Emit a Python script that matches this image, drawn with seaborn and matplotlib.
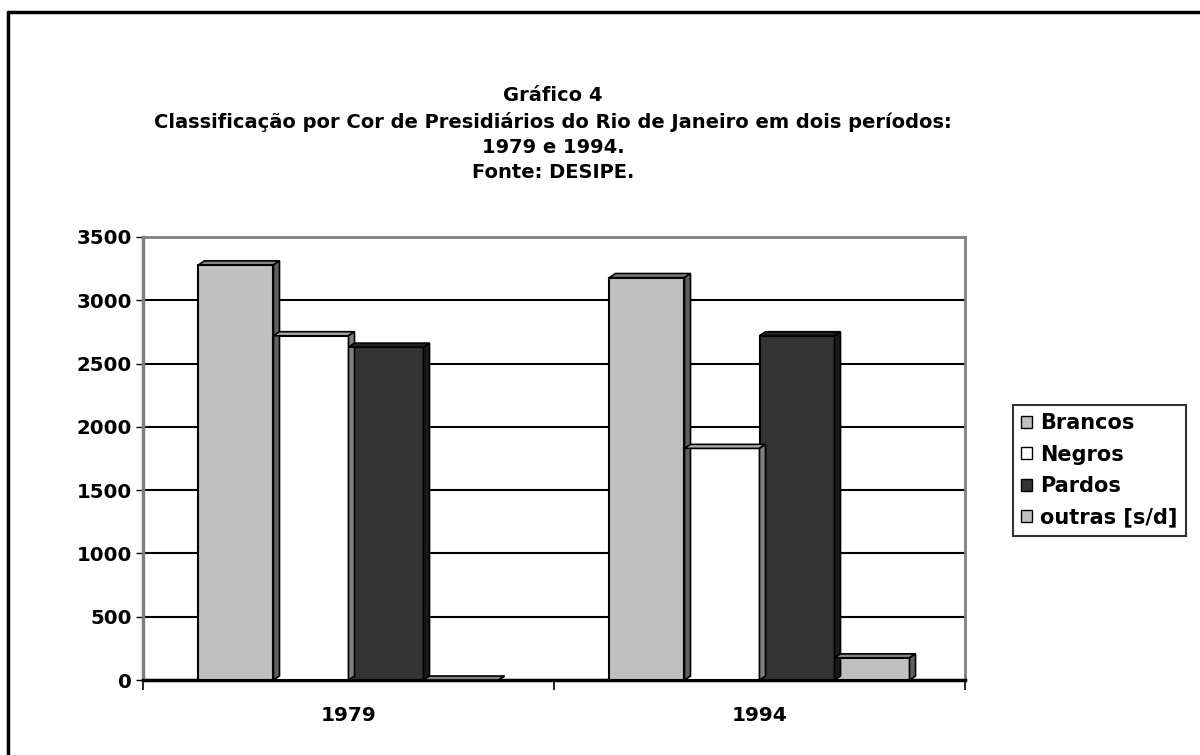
import matplotlib
matplotlib.use("Agg")
import matplotlib.pyplot as plt
from matplotlib.patches import Polygon
from matplotlib.lines import Line2D
import seaborn as sns
import pandas as pd
import numpy as np

# dados
anos = ['1979', '1994']
cores = ['Brancos', 'Negros', 'Pardos', 'outras [s/d]']
brancos = [3280, 3180]
negros = [2720, 1830]
pardos = [2630, 2720]
outras = [0, 175]
paleta = {'Brancos': '#C0C0C0', 'Negros': '#FFFFFF', 'Pardos': '#333333', 'outras [s/d]': '#C0C0C0'}

df = pd.DataFrame({
    'ano': anos * 4,
    'cor': [c for c in cores for _ in anos],
    'presos': brancos + negros + pardos + outras,
})

sns.set_style('white')
plt.rcParams['font.family'] = ['DejaVu Sans']
plt.rcParams['font.weight'] = 'bold'
plt.rcParams['text.color'] = 'black'
plt.rcParams['xtick.color'] = 'black'
plt.rcParams['ytick.color'] = 'black'

fig = plt.figure(figsize=(12, 7.55), dpi=100)
ax = fig.add_axes([143 / 1200, 75 / 755, 822 / 1200, 443 / 755])

sns.barplot(data=df, x='ano', y='presos', hue='cor', palette=paleta, width=0.73,
            edgecolor='black', linewidth=1.5, saturation=1, ax=ax, legend=True)

ax.set_ylim(0, 3500)
ax.set_xlim(-0.5, 1.5)
ax.set_yticks(np.arange(0, 3501, 500))
ax.grid(axis='y', color='black', linewidth=1.5)
ax.set_axisbelow(True)
ax.set_xlabel('')
ax.set_ylabel('')
ax.tick_params(axis='y', labelsize=14.2, length=5, width=1, left=True, pad=3, color='black')
ax.tick_params(axis='x', labelsize=14.5, length=0, pad=19)
ax.set_xticks([-0.5, 0.5, 1.5], minor=True)
ax.tick_params(axis='x', which='minor', bottom=True, length=7, width=1.2, color='black')
for lab in ax.get_xticklabels() + ax.get_yticklabels():
    lab.set_fontweight('bold')

for s in ['top', 'right']:
    ax.spines[s].set_color('#808080')
    ax.spines[s].set_linewidth(2)
ax.spines['left'].set_color('#808080')
ax.spines['left'].set_linewidth(2.5)
ax.spines['bottom'].set_color('black')
ax.spines['bottom'].set_linewidth(2.5)

# efeito 3D das colunas (profundidade em pixels)
fig.canvas.draw()
dx, dy = 6, 4
barras = sorted(ax.patches[:8], key=lambda p: p.get_x())
for i, p in enumerate(barras):
    x0, h, w = p.get_x(), p.get_height(), p.get_width()
    (ax0, ay0), (ax1, ay1) = ax.transData.transform([(x0, 0), (x0 + w, h)])
    cor = np.array(matplotlib.colors.to_rgb(p.get_facecolor()))
    z = 3 + i * 3
    p.set_zorder(z)
    topo = Polygon([(ax0, ay1), (ax1, ay1), (ax1 + dx, ay1 + dy), (ax0 + dx, ay1 + dy)],
                   closed=True, transform=None, facecolor=cor * 0.68, edgecolor='black',
                   linewidth=1.2, zorder=z + 1)
    lado = Polygon([(ax1, ay0), (ax1 + dx, ay0 + dy), (ax1 + dx, ay1 + dy), (ax1, ay1)],
                   closed=True, transform=None, facecolor=cor * 0.5, edgecolor='black',
                   linewidth=1.2, zorder=z + 1)
    fig.add_artist(topo)
    fig.add_artist(lado)

leg = ax.legend(loc='upper left', bbox_to_anchor=(1013 / 1200, 1 - 405 / 755),
                bbox_transform=fig.transFigure, frameon=True, fancybox=False,
                edgecolor='black', handlelength=0.5, handleheight=0.5,
                handletextpad=0.4, labelspacing=0.55, borderpad=0.4, borderaxespad=0,
                prop={'weight': 'bold', 'size': 15})
leg.get_frame().set_linewidth(1.5)
leg.get_frame().set_edgecolor('black')
for h in leg.legend_handles:
    h.set_edgecolor('black')
    h.set_linewidth(1)

fig.text(553 / 1200, 1 - 134 / 755,
         'Gráfico 4\nClassificação por Cor de Presidiários do Rio de Janeiro em dois períodos:\n'
         '1979 e 1994.\nFonte: DESIPE.',
         ha='center', va='center', fontsize=14, fontweight='bold', linespacing=1.4)

# moldura do gráfico
fig.add_artist(Line2D([8 / 1200, 8 / 1200], [0, 1 - 12 / 755], transform=fig.transFigure,
                      color='black', linewidth=2.5))
fig.add_artist(Line2D([8 / 1200, 1], [1 - 12 / 755, 1 - 12 / 755], transform=fig.transFigure,
                      color='black', linewidth=2.5))

fig.savefig('out.png', dpi=100, facecolor='white')
